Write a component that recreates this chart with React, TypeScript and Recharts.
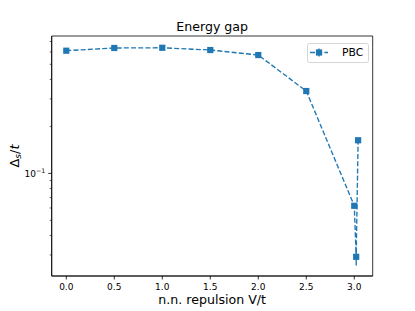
import React from 'react';
import { LineChart, Line, XAxis, YAxis, ErrorBar, Legend, ReferenceArea } from 'recharts';

const xValues = [0, 0.5, 1.0, 1.5, 2.0, 2.5, 3.0, 3.02, 3.04];
const gapValues = [0.611, 0.636, 0.638, 0.617, 0.573, 0.337, 0.062, 0.0292, 0.163];
const gapErrors = [0.004, 0.004, 0.004, 0.004, 0.004, 0.004, 0.002, 0.0035, 0.003];
const xTicks = [0, 0.5, 1.0, 1.5, 2.0, 2.5, 3.0];
const yTicks = [0.03, 0.04, 0.05, 0.06, 0.07, 0.08, 0.09, 0.1, 0.2, 0.3, 0.4, 0.5, 0.6, 0.7];
const seriesName = 'PBC';
const titleText = 'Energy gap';

const X_DOMAIN = [-0.152, 3.192];
const Y_DOMAIN = [0.022, 0.759];

const data = xValues.map((x, i) => ({ x, gap: gapValues[i], err: gapErrors[i] }));

const BLUE = '#1f77b4';
const FONT = 'DejaVu Sans, Verdana, sans-serif';
const MS = 6.2;

const XTick = (props: any) => {
  const { x, y, payload } = props;
  return (
    <g>
      <line x1={x} x2={x} y1={y} y2={y + 3.5} stroke="#000" strokeWidth={0.8} />
      <text x={x} y={y + 13.5} textAnchor="middle" fontSize={9} fontFamily={FONT} fill="#000">
        {Number(payload.value).toFixed(1)}
      </text>
    </g>
  );
};

const YTick = (props: any) => {
  const { x, y, payload } = props;
  const major = Math.abs(payload.value - 0.1) < 1e-9;
  return (
    <g>
      <line x1={x} x2={x - (major ? 3.5 : 2)} y1={y} y2={y} stroke="#000" strokeWidth={major ? 0.8 : 0.6} />
      {major && (
        <text x={x - 6.5} y={y + 3.2} textAnchor="end" fontSize={9} fontFamily={FONT} fill="#000">
          10<tspan dy={-4} fontSize={6.3}>−1</tspan>
        </text>
      )}
    </g>
  );
};

const Square = (props: any) => {
  const { cx, cy, index } = props;
  if (cx == null || cy == null) return <g key={`d${index}`} />;
  return <rect key={`d${index}`} x={cx - MS / 2} y={cy - MS / 2} width={MS} height={MS} fill={BLUE} />;
};

const XLabel = (props: any) => {
  const { viewBox } = props;
  const cx = viewBox.x + viewBox.width / 2;
  return (
    <text x={cx} y={303.5} textAnchor="middle" fontSize={12.6} fontFamily={FONT} fill="#000">
      n.n. repulsion V/t
    </text>
  );
};

const YLabel = (props: any) => {
  const { viewBox } = props;
  const cy = viewBox.y + viewBox.height / 2;
  return (
    <text
      x={18.5}
      y={cy}
      transform={`rotate(-90 18.5 ${cy})`}
      textAnchor="middle"
      fontSize={13}
      fontFamily={FONT}
      fill="#000"
    >
      Δ<tspan dy={2.5} fontSize={9.2} fontStyle="italic">s</tspan>
      <tspan dy={-2.5}>/</tspan>
      <tspan fontStyle="italic">t</tspan>
    </text>
  );
};

const TitleLabel = (props: any) => {
  const { viewBox } = props;
  const cx = viewBox.x + viewBox.width / 2;
  return (
    <text x={cx} y={30.5} textAnchor="middle" fontSize={12.6} fontFamily={FONT} fill="#000">
      {titleText}
    </text>
  );
};

const LegendBox = () => (
  <svg width={62} height={20} style={{ display: 'block' }}>
    <rect x={0.5} y={0.5} width={61} height={19} rx={2} ry={2} fill="#fff" stroke="#ccc" strokeWidth={0.8} />
    <line x1={3} x2={21} y1={9.5} y2={9.5} stroke={BLUE} strokeWidth={1.35} strokeDasharray="5 2.2" />
    <line x1={12} x2={12} y1={5.5} y2={13.5} stroke={BLUE} strokeWidth={1.35} />
    <rect x={12 - MS / 2} y={9.5 - MS / 2} width={MS} height={MS} fill={BLUE} />
    <text x={35} y={13.3} fontSize={10.8} fontFamily={FONT} fill="#000">
      {seriesName}
    </text>
  </svg>
);

export default function App() {
  return (
    <div style={{ position: 'fixed', left: 0, top: 0, width: 415, height: 311, background: '#fff' }}>
      <LineChart width={415} height={311} data={data} margin={{ top: 36, right: 42.3, bottom: 0, left: 0 }}>
        <XAxis
          xAxisId="main"
          dataKey="x"
          type="number"
          domain={X_DOMAIN}
          ticks={xTicks}
          interval={0}
          allowDataOverflow
          height={35}
          tickSize={0}
          tickMargin={0}
          tick={<XTick />}
          tickLine={false}
          axisLine={{ stroke: '#000', strokeWidth: 0.8 }}
          label={<XLabel />}
        />
        <YAxis
          yAxisId="main"
          type="number"
          scale="log"
          domain={Y_DOMAIN}
          allowDataOverflow
          ticks={yTicks}
          interval={0}
          width={51.7}
          tickSize={0}
          tickMargin={0}
          tick={<YTick />}
          tickLine={false}
          axisLine={{ stroke: '#000', strokeWidth: 0.8 }}
          label={<YLabel />}
        />
        <ReferenceArea
          xAxisId="main"
          yAxisId="main"
          x1={X_DOMAIN[0]}
          x2={X_DOMAIN[1]}
          y1={Y_DOMAIN[0]}
          y2={Y_DOMAIN[1]}
          fill="none"
          fillOpacity={0}
          stroke="#000"
          strokeWidth={0.8}
          ifOverflow="extendDomain"
          label={<TitleLabel />}
        />
        <Legend
          layout="vertical"
          align="center"
          verticalAlign="middle"
          content={<LegendBox />}
          wrapperStyle={{ position: 'absolute', left: 306.5, top: 43, width: 62, height: 20 }}
        />
        <Line
          xAxisId="main"
          yAxisId="main"
          dataKey="gap"
          name={seriesName}
          type="linear"
          stroke={BLUE}
          strokeWidth={1.35}
          strokeDasharray="5 2.2"
          dot={Square}
          activeDot={false}
          isAnimationActive={false}
        >
          <ErrorBar dataKey="err" direction="y" width={0} stroke={BLUE} strokeWidth={1.35} isAnimationActive={false} />
        </Line>
      </LineChart>
    </div>
  );
}
